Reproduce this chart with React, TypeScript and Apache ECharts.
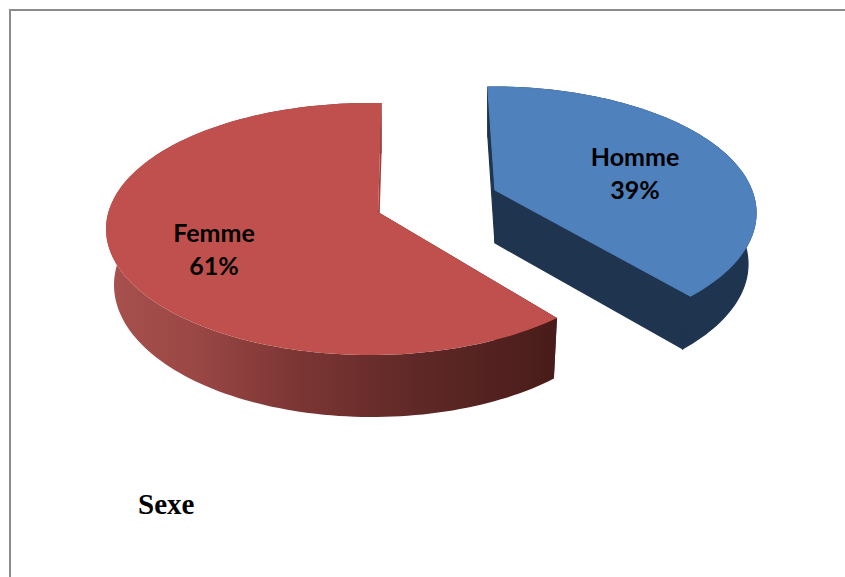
import React, { useEffect, useRef } from "react";
import * as echarts from "echarts";

// Data
const categories = ["Homme", "Femme"];
const shares = [39, 61];
const chartTitle = "Sexe";

// Drawing geometry of the exploded 3D slices (one entry per category)
type Plane = {
  cx: number; cy: number; rx: number; ry: number;
  wx: number; wy: number; // perspective of the rim
  ax: number; ay: number; // where the pie centre falls in the plane
};
type Look = {
  top: Plane;
  bottom: Plane;
  offset: number;
  topFill: string;
  startWall: string;
  endWall: string;
  outerWall: any;
  label: [number, number];
};

const looks: Look[] = [
  {
    top: { cx: 492, cy: 213, rx: 264, ry: 126, wx: 3 / 264, wy: -0.168, ax: 3 / 264, ay: -23 / 126 },
    bottom: { cx: 492, cy: 264, rx: 256, ry: 127, wx: 3 / 256, wy: -0.154, ax: 3 / 256, ay: -21 / 127 },
    offset: -1.8,
    topFill: "#4f81bd",
    startWall: "#1f344f",
    endWall: "#1f344f",
    outerWall: "#1f344f",
    label: [635, 172],
  },
  {
    top: { cx: 370, cy: 229, rx: 264, ry: 126, wx: 8 / 264, wy: -17 / 126, ax: 8 / 264, ay: -17 / 126 },
    bottom: { cx: 372, cy: 285, rx: 258, ry: 132, wx: 6 / 258, wy: -18 / 132, ax: 6 / 258, ay: -18 / 132 },
    offset: 1,
    topFill: "#c0504d",
    startWall: "#481c1a",
    endWall: "#a03f3c",
    outerWall: {
      type: "linear",
      x: 0,
      y: 0,
      x2: 1,
      y2: 0,
      colorStops: [
        { offset: 0, color: "#a8514e" },
        { offset: 0.2, color: "#9a4745" },
        { offset: 0.42, color: "#7c3634" },
        { offset: 0.7, color: "#5e2826" },
        { offset: 1, color: "#481c1a" },
      ],
    },
    label: [214, 248],
  },
];

// Perspective: maps a true pie angle onto the ellipse of a plane.
function rimPoint(p: Plane, deg: number): [number, number] {
  const t = (deg * Math.PI) / 180;
  const zx = Math.sin(t);
  const zy = -Math.cos(t);
  const len2 = p.wx * p.wx + p.wy * p.wy;
  const k = (1 - Math.sqrt(Math.max(0, 1 - len2))) / (len2 || 1);
  const bx = p.wx * k;
  const by = p.wy * k;
  const nx = zx + bx;
  const ny = zy + by;
  const dx = 1 + bx * zx + by * zy;
  const dy = bx * zy - by * zx;
  const d = dx * dx + dy * dy;
  const ux = (nx * dx + ny * dy) / d;
  const uy = (ny * dx - nx * dy) / d;
  return [p.cx + p.rx * ux, p.cy + p.ry * uy];
}

const apex = (p: Plane): [number, number] => [p.cx + p.rx * p.ax, p.cy + p.ry * p.ay];

function arc(p: Plane, from: number, to: number): [number, number][] {
  const n = Math.max(2, Math.ceil(Math.abs(to - from) / 1.5));
  const out: [number, number][] = [];
  for (let i = 0; i <= n; i++) out.push(rimPoint(p, from + ((to - from) * i) / n));
  return out;
}

export default function App() {
  const ref = useRef<HTMLDivElement>(null);

  useEffect(() => {
    document.body.style.margin = "0";
    const chart = echarts.init(ref.current!, undefined, { renderer: "svg" });
    const total = shares.reduce((a, b) => a + b, 0);

    const renderItem = (params: any, api: any) => {
      const i = params.dataIndex;
      const look = looks[i];
      const before = shares.slice(0, i).reduce((a, b) => a + b, 0);
      const from = look.offset + (before / total) * 360;
      const to = from + (Number(api.value(0)) / total) * 360;
      const { top, bottom } = look;
      const aT = apex(top);
      const aB = apex(bottom);
      const topArc = arc(top, from, to);
      const bottomArc = arc(bottom, from, to);
      const poly = (points: [number, number][], fill: any, seam = false) => ({
        type: "polygon",
        shape: { points },
        style: seam ? { fill, stroke: fill, lineWidth: 1.2 } : { fill, stroke: "none" },
      });
      const flat = typeof look.outerWall === "string";
      return {
        type: "group",
        children: [
          poly([topArc[0], bottomArc[0], aB, aT], look.startWall, flat),
          poly([...topArc, ...bottomArc.slice().reverse()], look.outerWall, flat),
          poly([topArc[topArc.length - 1], bottomArc[bottomArc.length - 1], aB, aT], look.endWall, flat),
          poly([aT, ...topArc], look.topFill, flat),
          {
            type: "text",
            x: look.label[0],
            y: look.label[1],
            style: {
              text: `${categories[i]}\n${api.value(0)}%`,
              font: 'bold 25px "Lato"',
              fill: "#000000",
              align: "center",
              verticalAlign: "middle",
              lineHeight: 33,
            },
          },
        ],
      };
    };

    chart.setOption({
      animation: false,
      title: {
        text: chartTitle,
        left: 138,
        top: 489,
        padding: 0,
        textStyle: {
          fontFamily: '"Liberation Serif"',
          fontWeight: "bold",
          fontSize: 29,
          color: "#000000",
        },
      },
      graphic: [
        {
          type: "polyline",
          silent: true,
          shape: { points: [[10, 577], [10, 10], [845, 10]] },
          style: { stroke: "#8c8c8c", lineWidth: 2, fill: "none" },
        },
      ],
      series: [
        {
          type: "custom",
          coordinateSystem: "none",
          renderItem,
          data: categories.map((name, i) => ({ name, value: [shares[i]] })),
        },
      ],
    });
    return () => chart.dispose();
  }, []);

  return (
    <div
      ref={ref}
      style={{ position: "absolute", left: 0, top: 0, width: 845, height: 577, background: "#ffffff" }}
    />
  );
}
